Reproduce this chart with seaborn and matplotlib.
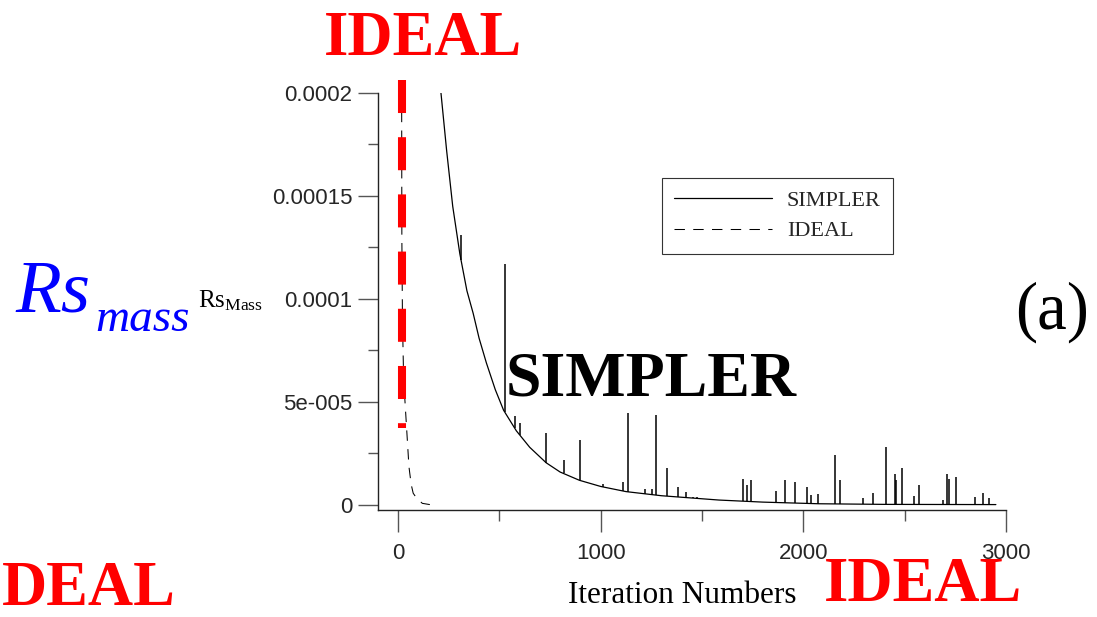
import numpy as np
import matplotlib
matplotlib.use('Agg')
import matplotlib.pyplot as plt
import seaborn as sns

# SIMPLER mass residual, smooth part (iteration, residual)
simpler_iter = [212, 240, 270, 305, 340, 371, 400, 436, 480, 521, 584, 650, 731,
                800, 895, 1000, 1125, 1300, 1584, 1800, 2076, 2400, 2950]
simpler_res = [20.0e-5, 17.2e-5, 14.5e-5, 12.2e-5, 10.4e-5, 9.3e-5, 8.1e-5, 6.9e-5,
               5.6e-5, 4.6e-5, 3.6e-5, 2.8e-5, 2.05e-5, 1.6e-5, 1.2e-5, 0.9e-5,
               0.65e-5, 0.45e-5, 0.24e-5, 0.14e-5, 0.06e-5, 0.03e-5, 0.02e-5]

# SIMPLER spikes (iteration, bottom, top)
spike_iter = [310, 526, 575, 603, 731, 817, 900, 1010, 1108, 1136, 1218, 1253, 1272,
              1326, 1383, 1420, 1456, 1476, 1702, 1723, 1740, 1863, 1912, 1961, 2020,
              2040, 2072, 2158, 2179, 2296, 2346, 2409, 2450, 2458, 2489, 2548, 2571,
              2691, 2709, 2718, 2753, 2847, 2887, 2917]
spike_lo = [11.9e-5, 4.5e-5, 3.75e-5, 3.4e-5, 2.05e-5, 1.55e-5, 1.2e-5, 0.88e-5, 0.7e-5,
            0.64e-5, 0.55e-5, 0.5e-5, 0.48e-5, 0.44e-5, 0.39e-5, 0.36e-5, 0.33e-5,
            0.32e-5, 0.2e-5, 0.19e-5, 0.18e-5, 0.13e-5, 0.11e-5, 0.09e-5, 0.07e-5,
            0.07e-5, 0.06e-5, 0.05e-5, 0.05e-5, 0.04e-5, 0.04e-5, 0.03e-5, 0.03e-5,
            0.03e-5, 0.03e-5, 0.03e-5, 0.03e-5, 0.02e-5, 0.02e-5, 0.02e-5, 0.02e-5,
            0.02e-5, 0.02e-5, 0.02e-5]
spike_hi = [13.1e-5, 11.7e-5, 4.3e-5, 4.0e-5, 3.48e-5, 2.2e-5, 3.15e-5, 1.0e-5, 1.13e-5,
            4.45e-5, 0.78e-5, 0.78e-5, 4.37e-5, 1.78e-5, 0.89e-5, 0.65e-5, 0.40e-5,
            0.38e-5, 1.25e-5, 0.97e-5, 1.2e-5, 0.68e-5, 1.2e-5, 1.13e-5, 0.86e-5,
            0.5e-5, 0.52e-5, 2.43e-5, 1.21e-5, 0.33e-5, 0.57e-5, 2.83e-5, 1.49e-5,
            1.21e-5, 1.78e-5, 0.43e-5, 0.97e-5, 0.26e-5, 1.49e-5, 1.26e-5, 1.34e-5,
            0.4e-5, 0.57e-5, 0.36e-5]

# IDEAL mass residual
ideal_iter = [18, 19, 22, 27, 34, 43, 54, 65, 75, 92, 120, 157]
ideal_res = [20.0e-5, 13.0e-5, 9.0e-5, 6.5e-5, 5.1e-5, 3.64e-5, 1.86e-5, 1.0e-5,
             0.57e-5, 0.33e-5, 0.08e-5, 0.02e-5]

# thick red marker over the IDEAL curve
red_iter = [20, 20]
red_res = [20.63e-5, 3.74e-5]

xticks = [0, 1000, 2000, 3000]
xtick_labels = ['0', '1000', '2000', '3000']
yticks = [0, 5e-5, 1e-4, 1.5e-4, 2e-4]
ytick_labels = ['0', '5e-005', '0.0001', '0.00015', '0.0002']

sns.set_style('ticks')
plt.rcParams['font.family'] = ['Liberation Sans', 'DejaVu Sans']
plt.rcParams['mathtext.fontset'] = 'custom'
plt.rcParams['mathtext.rm'] = 'Liberation Serif'
plt.rcParams['mathtext.it'] = 'Liberation Serif:italic'

W, H = 1097, 617
fig = plt.figure(figsize=(W / 100, H / 100), dpi=100)
ax = fig.add_axes([378 / W, 1 - 510 / H, 628 / W, 417 / H])

sns.lineplot(x=simpler_iter, y=simpler_res, ax=ax, color='black', lw=0.9,
             estimator=None, sort=False, label='SIMPLER')
ax.vlines(spike_iter, spike_lo, spike_hi, color='black', lw=1.1)
sns.lineplot(x=ideal_iter, y=ideal_res, ax=ax, color='black', lw=0.75,
             linestyle=(0, (10, 8)), estimator=None, sort=False, label='IDEAL')
sns.lineplot(x=red_iter, y=red_res, ax=ax, color='red', lw=5.8,
             linestyle=(0, (4.1, 3.0)), estimator=None, sort=False, clip_on=False)

ax.set_xlim(-98.7, 3000)
ax.set_ylim(-0.243e-5, 20e-5)
sns.despine(ax=ax)
for s in ['left', 'bottom']:
    ax.spines[s].set_color('#222')
    ax.spines[s].set_linewidth(1.0)

ax.set_xticks(xticks, xtick_labels)
ax.set_xticks([500, 1500, 2500], minor=True)
ax.set_yticks(yticks, ytick_labels)
ax.set_yticks([2.5e-5, 7.5e-5, 12.5e-5, 17.5e-5], minor=True)
ax.tick_params(axis='x', which='major', length=15.8, width=1.0, pad=8, labelsize=16, color='#555')
ax.tick_params(axis='x', which='minor', length=7.9, width=1.0, color='#555')
ax.tick_params(axis='y', which='major', length=14.4, width=1.0, pad=4, labelsize=16, color='#555')
ax.tick_params(axis='y', which='minor', length=7.2, width=1.0, color='#555')

leg = ax.legend(loc='upper left', bbox_to_anchor=(0.452, 0.796), borderaxespad=0,
                frameon=True, fancybox=False, framealpha=1, edgecolor='#333',
                prop={'family': 'Liberation Serif', 'size': 16},
                handlelength=4.4, handletextpad=0.68, borderpad=0.55, labelspacing=0.45)
leg.get_frame().set_linewidth(0.8)

serif = 'Liberation Serif'
fig.text(423 / W, 1 - 55 / H, 'IDEAL', color='red', fontsize=45, fontweight='bold',
         family=serif, ha='center', va='baseline')
fig.text(2 / W, 1 - 605 / H, 'DEAL', color='red', fontsize=45, fontweight='bold',
         family=serif, ha='left', va='baseline')
fig.text(923 / W, 2 / H, 'IDEAL', color='red', fontsize=45, fontweight='bold',
         family=serif, ha='center', va='bottom')
fig.text(651 / W, 1 - 395 / H, 'SIMPLER', color='black', fontsize=46, fontweight='bold',
         family=serif, ha='center', va='baseline')
fig.text(1052 / W, 1 - 312 / H, '(a)', color='black', fontsize=48,
         family=serif, ha='center', va='center')
# big blue Rs_mass, drawn as two texts so the subscript can sit low
fig.text(15 / W, 1 - 312 / H, 'Rs', color='blue', fontsize=54, style='italic',
         family=serif, ha='left', va='baseline')
fig.text(95 / W, 1 - 331 / H, 'mass', color='blue', fontsize=34, style='italic',
         family=serif, ha='left', va='baseline')
fig.text(198 / W, 1 - 307 / H, r'$\mathrm{Rs}_{\mathrm{Mass}}$', color='black', fontsize=18,
         ha='left', va='baseline')
fig.text(682 / W, 1 - 603 / H, 'Iteration Numbers', color='black', fontsize=22.5,
         family=serif, ha='center', va='baseline')

fig.savefig('out.png', dpi=100)
